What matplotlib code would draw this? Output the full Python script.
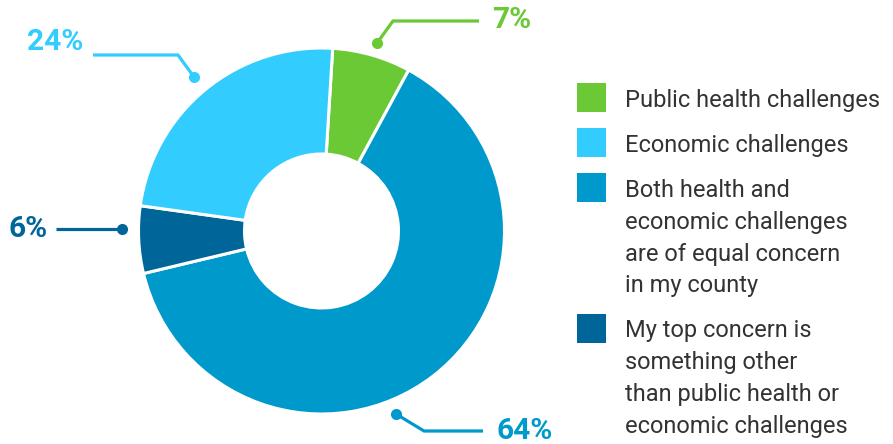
import matplotlib
matplotlib.use("Agg")
import matplotlib.pyplot as plt

# survey shares in pie order (sum is 101 because of rounding)
labels = ["Public health challenges",
          "Both health and\neconomic challenges\nare of equal concern\nin my county",
          "My top concern is\nsomething other\nthan public health or\neconomic challenges",
          "Economic challenges"]
values = [7, 64, 6, 24]
pie_colors = ["#6AC935", "#0099CC", "#006699", "#33CCFF"]
pct_text = ["7%", "64%", "6%", "24%"]

# legend order differs from pie order
legend_idx = [0, 3, 1, 2]

W, H = 893, 444
def Y(y):
    return H - y   # pixel rows -> axes units

plt.rcParams["font.family"] = ["Roboto", "DejaVu Sans"]

fig = plt.figure(figsize=(W / 100, H / 100), dpi=100)
ax = fig.add_axes([0, 0, 1, 1])

cx, cy, r_out, r_in = 321.5, 231, 183, 77
ax.pie(values, colors=pie_colors, startangle=86.5, counterclock=False,
       center=(cx, Y(cy)), radius=r_out,
       wedgeprops=dict(width=r_out - r_in, edgecolor="white", linewidth=2.2))

ax.set_xlim(0, W); ax.set_ylim(0, H)
ax.set_aspect("auto"); ax.axis("off")

# leader lines: (points along the leader, label anchor, alignment)
leaders = [
    ([(377, 43), (393, 21), (479, 21)], (492, 20), "left"),
    ([(396, 414), (424, 431), (483, 431)], (496, 431), "left"),
    ([(122, 229), (56, 229)], (48, 229), "right"),
    ([(194, 77), (178, 55), (93, 55)], (83, 42), "right"),
]
for (pts, (tx, ty), ha), col, txt in zip(leaders, pie_colors, pct_text):
    xs = [p[0] for p in pts]; ys = [Y(p[1]) for p in pts]
    ax.plot(xs, ys, color=col, lw=2.3, solid_capstyle="butt", solid_joinstyle="miter")
    ax.plot(xs[0], ys[0], "o", color=col, ms=8, mec="none")
    ax.text(tx, Y(ty), txt, color=col, fontsize=21.5, fontweight="bold",
            ha=ha, va="center")

# manual legend
base = 106.7
line_h = 31.7
for i in legend_idx:
    lines = labels[i].split("\n")
    ax.add_patch(plt.Rectangle((577, Y(base - 9.2) - 14.5), 29, 29,
                               color=pie_colors[i], lw=0))
    for k, ln in enumerate(lines):
        ax.text(625, Y(base + k * line_h), ln, color="#333333", fontsize=17,
                ha="left", va="baseline")
    base += len(lines) * line_h + 13.5

fig.savefig("out.png", dpi=100)
